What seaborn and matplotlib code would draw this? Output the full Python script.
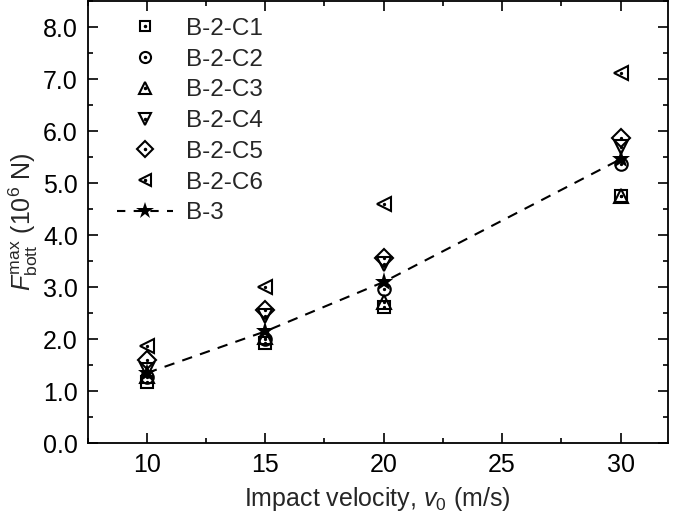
import matplotlib
matplotlib.use("Agg")
import matplotlib.pyplot as plt
from matplotlib.ticker import MultipleLocator
import pandas as pd
import seaborn as sns

# data
velocity = [10, 15, 20, 30]
c1 = [1.18, 1.93, 2.62, 4.75]
c2 = [1.27, 2.00, 2.96, 5.37]
c3 = [1.30, 2.05, 2.72, 4.76]
c4 = [1.40, 2.45, 3.45, 5.70]
c5 = [1.60, 2.57, 3.56, 5.86]
c6 = [1.86, 3.00, 4.60, 7.12]
b3 = [1.35, 2.15, 3.10, 5.46]

series = ["B-2-C1", "B-2-C2", "B-2-C3", "B-2-C4", "B-2-C5", "B-2-C6"]
markers = ["s", "o", "^", "v", "D", "<"]
sizes = [8, 9, 10, 10, 9, 10]

sns.set_theme(style="ticks")
plt.rcParams["font.family"] = ["Liberation Sans", "DejaVu Sans"]
plt.rcParams["mathtext.fontset"] = "custom"
plt.rcParams["mathtext.rm"] = "Liberation Sans"
plt.rcParams["mathtext.it"] = "Liberation Sans:italic"

fig = plt.figure(figsize=(6.85, 5.13), dpi=100)
ax = fig.add_axes([0.128, 0.136, 0.847, 0.862])

handles = []
for name, vals, mk, ms in zip(series, [c1, c2, c3, c4, c5, c6], markers, sizes):
    df = pd.DataFrame({"v": velocity, "F": vals})
    sns.lineplot(data=df, x="v", y="F", ax=ax, linestyle="", marker=mk,
                 markersize=ms, markerfacecolor="none", markeredgecolor="black",
                 markeredgewidth=1.5, color="black")
    sns.lineplot(data=df, x="v", y="F", ax=ax, linestyle="", marker="o",
                 markersize=1.6, markerfacecolor="black", markeredgecolor="black",
                 color="black")
    h1 = plt.Line2D([], [], linestyle="", marker=mk, markersize=ms - 1,
                    markerfacecolor="none", markeredgecolor="black", markeredgewidth=1.5)
    h2 = plt.Line2D([], [], linestyle="", marker="o", markersize=1.5, color="black")
    handles.append((h1, h2))

df3 = pd.DataFrame({"v": velocity, "F": b3})
sns.lineplot(data=df3, x="v", y="F", ax=ax, linestyle=(0, (5, 4)), linewidth=1.5,
             marker="*", markersize=14, color="black", markeredgewidth=0)
h3 = plt.Line2D([], [], linestyle=(0, (4, 4)), linewidth=1.5, marker="*",
                markersize=13, color="black", markeredgewidth=0)
handles.append(h3)

ax.legend(handles, series + ["B-3"], loc="upper left", frameon=False, fontsize=17.5,
          handlelength=2.3, handletextpad=0.55, labelspacing=0.36,
          bbox_to_anchor=(0.05, 0.962), borderaxespad=0.0, borderpad=0.0)

ax.set_xlim(7.5, 32)
ax.set_ylim(0, 8.5)
ax.xaxis.set_major_locator(MultipleLocator(5))
ax.xaxis.set_minor_locator(MultipleLocator(2.5))
ax.yaxis.set_minor_locator(MultipleLocator(0.5))
ax.set_yticks([0, 1, 2, 3, 4, 5, 6, 7, 8])
ax.set_yticklabels([f"{v:.1f}" for v in range(9)])
ax.tick_params(which="both", direction="in", top=True, right=True, width=1.2,
               labelsize=18, colors="black")
ax.tick_params(which="major", length=7, pad=7)
ax.tick_params(which="minor", length=3.6)
for sp in ax.spines.values():
    sp.set_linewidth(1.3)
    sp.set_color("black")

ax.set_xlabel("Impact velocity, $\\it{v}_0$ (m/s)", fontsize=18, labelpad=6)
ax.set_ylabel("$F_{\\rm bott}^{\\rm max}$ (10$^6$ N)", fontsize=18, labelpad=2)

fig.savefig("out.png", dpi=100)
